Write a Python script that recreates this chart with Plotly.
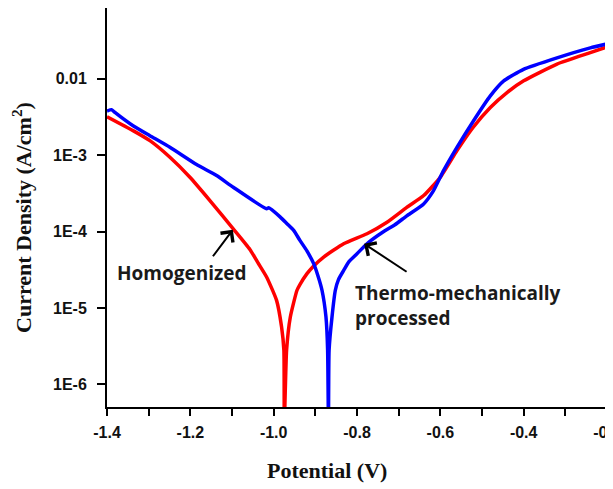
import plotly.graph_objects as go

# Thermo-mechanically processed (blue)
v_tmp = [-1.400, -1.389, -1.381, -1.3375, -1.297, -1.249, -1.185, -1.137, -1.097,
         -1.017, -1.012, -0.984, -0.968, -0.952, -0.937, -0.9202, -0.904, -0.8938, -0.884,
         -0.8745, -0.8705, -0.8685, -0.867, -0.860, -0.852, -0.8445, -0.832, -0.8193,
         -0.800, -0.776, -0.7367, -0.709, -0.6806, -0.6407, -0.6167, -0.5927, -0.5605,
         -0.5206, -0.4805, -0.4485, -0.4005, -0.320, -0.240, -0.200]
i_tmp = [3.79e-3, 3.95e-3, 3.63e-3, 2.43e-3, 1.80e-3, 1.27e-3, 7.54e-4, 5.42e-4, 3.81e-4,
         1.99e-4, 2.05e-4, 1.55e-4, 1.27e-4, 1.04e-4, 7.68e-5, 5.6e-5, 3.81e-5, 2.65e-5, 1.71e-5,
         7.65e-6, 2.81e-6, 3.0e-7, 2.81e-6, 7.65e-6, 1.71e-5, 2.36e-5, 3.11e-5, 4.05e-5,
         5.14e-5, 6.95e-5, 9.97e-5, 1.23e-4, 1.61e-4, 2.29e-4, 3.42e-4, 6.24e-4, 1.26e-3,
         2.81e-3, 5.94e-3, 9.33e-3, 1.33e-2, 1.88e-2, 2.54e-2, 2.86e-2]

# Homogenized (red)
v_hom = [-1.400, -1.3375, -1.297, -1.249, -1.201, -1.153, -1.097, -1.057, -1.0379, -1.017,
         -0.993, -0.981, -0.9755, -0.9745, -0.969, -0.960, -0.944, -0.937, -0.920, -0.9057,
         -0.880, -0.832, -0.776, -0.728, -0.680, -0.640, -0.600, -0.560, -0.5215, -0.480,
         -0.440, -0.400, -0.320, -0.240, -0.200]
i_hom = [3.19e-3, 2.10e-3, 1.55e-3, 9.40e-4, 5.15e-4, 2.55e-4, 1.09e-4, 5.86e-5, 3.93e-5, 2.55e-5,
         1.26e-5, 5.66e-6, 2.81e-6, 3.0e-7, 2.81e-6, 7.65e-6, 1.71e-5, 2.03e-5, 2.82e-5, 3.48e-5,
         4.65e-5, 6.95e-5, 9.40e-5, 1.33e-4, 2.09e-4, 2.97e-4, 5.15e-4, 1.15e-3, 2.31e-3, 4.22e-3,
         6.62e-3, 9.42e-3, 1.56e-2, 2.20e-2, 2.61e-2]

y_tickvals = [1e-6, 1e-5, 1e-4, 1e-3, 1e-2]
y_ticktext = ["1E-6", "1E-5", "1E-4", "1E-3", "0.01"]
x_tickvals = [-1.4, -1.2, -1.0, -0.8, -0.6, -0.4, -0.2]
x_ticktext = ["-1.4", "-1.2", "-1.0", "-0.8", "-0.6", "-0.4", "-0.2"]

fig = go.Figure()
fig.add_trace(go.Scatter(x=v_hom, y=i_hom, mode="lines", name="Homogenized",
                         line=dict(color="#ff0000", width=3.5, shape="spline", smoothing=0.5)))
fig.add_trace(go.Scatter(x=v_tmp, y=i_tmp, mode="lines", name="Thermo-mechanically processed",
                         line=dict(color="#0000ff", width=3.5, shape="spline", smoothing=0.5)))

tickfont = dict(family="Liberation Sans, Arial", size=16, color="#111111", weight="bold")

fig.update_layout(
    width=605, height=481,
    margin=dict(l=99, r=6, t=0, b=82, pad=0),
    paper_bgcolor="white", plot_bgcolor="white",
    showlegend=False,
    xaxis=dict(range=[-1.4, -0.2], tickvals=x_tickvals, ticktext=x_ticktext,
               ticks="outside", ticklen=7, tickwidth=2, tickcolor="black",
               minor=dict(dtick=0.1, tick0=-1.4, ticks="outside", ticklen=7, tickwidth=2, tickcolor="black"),
               showline=True, linewidth=2, linecolor="black", mirror=True,
               showgrid=False, zeroline=False, tickfont=tickfont, automargin=False,
               ticklabelstandoff=3, ticklabeloverflow="allow"),
    yaxis=dict(type="log", range=[-6.295, -1.073], tickvals=y_tickvals, ticktext=y_ticktext,
               ticks="outside", ticklen=8, tickwidth=2, tickcolor="black",
               showline=True, linewidth=2, linecolor="black", mirror=True,
               showgrid=False, zeroline=False, tickfont=tickfont, automargin=False,
               ticklabelstandoff=7),
)

title_font = dict(family="Liberation Serif, Times New Roman", size=22, color="#111111", weight="bold")
label_font = dict(family="Open Sans", size=19, color="#1a1a1a", weight="bold")

fig.add_annotation(text="Current Density (A/cm<sup>2</sup>)", xref="paper", yref="paper",
                   x=-0.17, y=0.4737, xanchor="center", yanchor="middle", textangle=-90,
                   showarrow=False, font=title_font)
fig.add_annotation(text="Potential (V)", xref="paper", yref="paper",
                   x=0.44, y=-0.160, xanchor="center", yanchor="middle",
                   showarrow=False, font=title_font)

fig.add_annotation(text="Homogenized", xref="paper", yref="paper",
                   x=0.148, y=0.336, xanchor="center", yanchor="middle",
                   showarrow=False, font=label_font)
fig.add_annotation(text="Thermo-mechanically<br>processed", xref="paper", yref="paper",
                   x=0.492, y=0.2556, xanchor="left", yanchor="middle", align="left",
                   showarrow=False, font=label_font)

# arrows
fig.add_annotation(text="", x=-1.098, y=-3.975, xref="x", yref="y",
                   showarrow=True, ax=-21, ay=28, arrowhead=4, arrowsize=1.5,
                   arrowwidth=2, arrowcolor="black")
fig.add_annotation(text="", x=-0.783, y=-4.158, xref="x", yref="y",
                   showarrow=True, ax=44, ay=29, arrowhead=4, arrowsize=1.5,
                   arrowwidth=2, arrowcolor="black")

fig.write_html("out.html")
